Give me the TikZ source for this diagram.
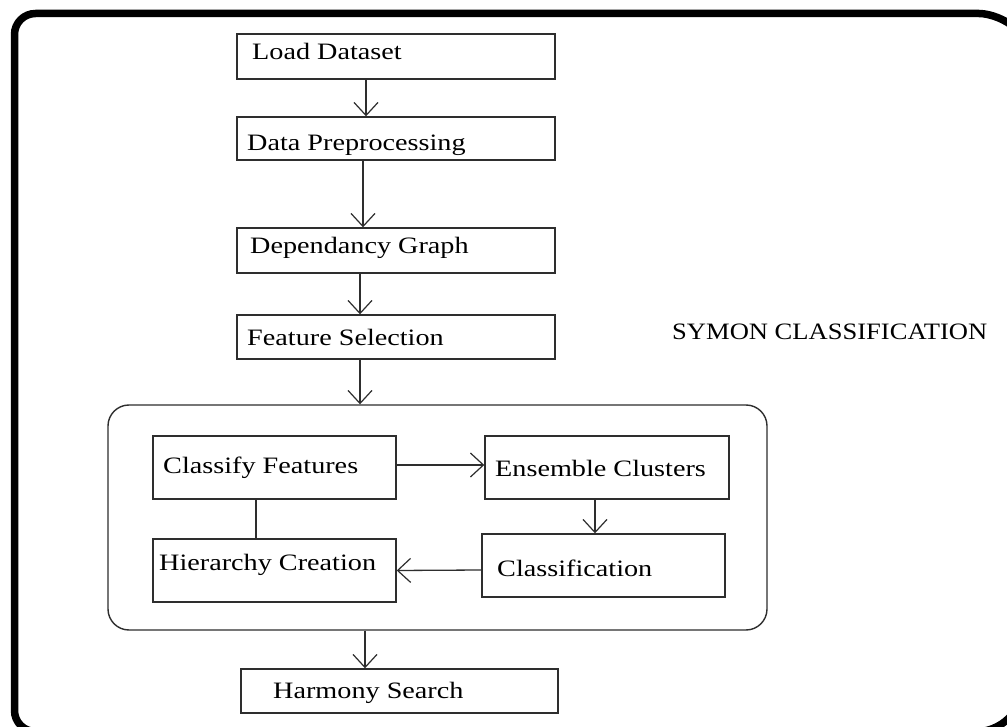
\documentclass[tikz,border=0pt]{standalone}
\usepackage{fontspec}
\usetikzlibrary{arrows.meta}
\newfontfamily\palfont[FakeStretch=1.2]{Liberation Serif}
\newfontfamily\titlefont[FakeStretch=1.13]{Liberation Serif}
\definecolor{ln}{HTML}{2E2E2E}
\begin{document}
\begin{tikzpicture}[x=1pt,y=-1pt,
  box/.style={draw=ln,line width=1.4pt,inner sep=0pt},
  lbl/.style={anchor=base west,inner sep=0pt,font=\palfont\fontsize{23.5}{28}\selectfont,text=black},
  arr/.style={draw=ln,line width=1.3pt,-{Straight Barb[length=13pt,width=24pt,line width=1.2pt]}},
  conn/.style={draw=ln,line width=1.3pt}]
\useasboundingbox (0,0) rectangle (1007,727);
\fill[white] (0,0) rectangle (1007,727);
\begin{scope}
\clip (0,0) rectangle (1007,727);
\draw[line width=7.5pt,rounded corners=21pt] (14.5,13.5) -- (1000,13.5) -- (1022,35) -- (1022,700) -- (1000,731.5) -- (14.5,731.5) -- cycle;
\end{scope}
% boxes
\node[box,minimum width=318pt,minimum height=45pt] (load) at (396,56.5) {};
\node[box,minimum width=318pt,minimum height=43pt] (data) at (396,138.5) {};
\node[box,minimum width=318pt,minimum height=45pt] (dep) at (396,250.5) {};
\node[box,minimum width=318pt,minimum height=44pt] (feat) at (396,337) {};
\node[box,rounded corners=21pt,minimum width=659pt,minimum height=225pt] (inner) at (437.5,517.5) {};
\node[box,minimum width=243pt,minimum height=63pt] (classify) at (274.5,467.5) {};
\node[box,minimum width=243pt,minimum height=63pt] (hier) at (274.5,570.5) {};
\node[box,minimum width=244pt,minimum height=63pt] (ens) at (607,467.5) {};
\node[box,minimum width=243pt,minimum height=63pt] (cls) at (603.5,565.5) {};
\node[box,minimum width=317pt,minimum height=44pt] (harm) at (399.5,691) {};
% labels
\node[lbl] (tload) at (252,60) {Load Dataset};
\node[lbl] (tdata) at (247,151) {Data Preprocessing};
\node[lbl] (tdep) at (250,254) {Dependancy Graph};
\node[lbl] (tfeat) at (247,345) {Feature Selection};
\node[lbl] (tclassify) at (163,473) {Classify Features};
\node[lbl] (thier) at (159,570) {Hierarchy Creation};
\node[lbl] (tens) at (495,476) {Ensemble Clusters};
\node[lbl] (tcls) at (497,576) {Classification};
\node[lbl] (tharm) at (273,698) {Harmony Search};
\node[lbl,font=\titlefont\fontsize{23.5}{28}\selectfont] (title) at (672,340) {SYMON CLASSIFICATION};
% connectors
\draw[arr] ([xshift=-30pt]load.south) -- ([xshift=-30pt]data.north);
\draw[arr] ([xshift=-33pt]data.south) -- ([xshift=-33pt]dep.north);
\draw[arr] ([xshift=-36pt]dep.south) -- ([xshift=-36pt]feat.north);
\draw[arr] ([xshift=-36pt]feat.south) -- ([xshift=-77.5pt]inner.north);
\draw[arr] ([yshift=2.5pt]classify.east) -- ([yshift=2.5pt]ens.west);
\draw[arr] ([xshift=-12pt]ens.south) -- ([xshift=-8.5pt]cls.north);
\draw[arr] ([yshift=-4.5pt]cls.west) -- (hier.east);
\draw[conn] ([xshift=-18.5pt]classify.south) -- ([xshift=-18.5pt]hier.north);
\draw[arr] ([xshift=-72.5pt]inner.south) -- ([xshift=-34.5pt]harm.north);
\end{tikzpicture}
\end{document}
